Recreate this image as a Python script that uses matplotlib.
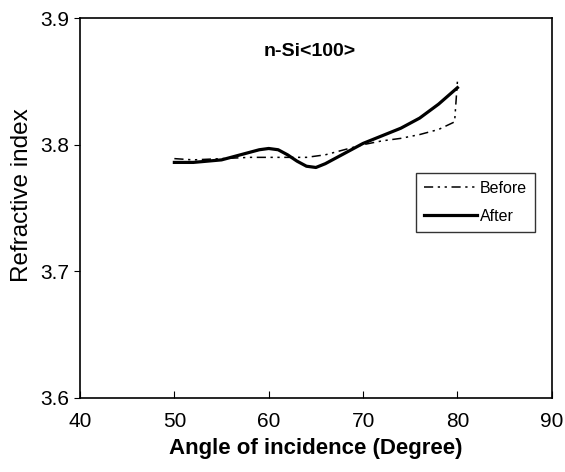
import matplotlib
matplotlib.use("Agg")
import matplotlib.pyplot as plt

plt.rcParams['font.family'] = ['Liberation Sans', 'DejaVu Sans']

# -----------------------------------------
# data
# -----------------------------------------
before_angle = [50, 52, 55, 58, 60, 62, 64, 66, 68, 70, 72, 74, 76, 78, 79.7, 80]
before_n = [3.789, 3.788, 3.789, 3.790, 3.790, 3.790, 3.790, 3.792, 3.796,
            3.800, 3.803, 3.805, 3.808, 3.812, 3.818, 3.850]

after_angle = [50, 52, 55, 57, 59, 60, 61, 62, 63, 64, 65, 66, 67, 68,
               70, 72, 74, 76, 78, 80]
after_n = [3.786, 3.786, 3.788, 3.792, 3.796, 3.797, 3.796, 3.792, 3.787,
           3.783, 3.782, 3.785, 3.789, 3.793, 3.801, 3.807, 3.813, 3.821,
           3.832, 3.845]

x_ticks = [40, 50, 60, 70, 80, 90]
y_ticks = [3.6, 3.7, 3.8, 3.9]

# -----------------------------------------
# plot
# -----------------------------------------
fig = plt.figure(figsize=(5.65, 4.72), dpi=100)
ax = fig.add_axes([0.1416, 0.1568, 0.835, 0.805])

ax.plot(before_angle, before_n, color='black', linewidth=1.1,
        dashes=(6, 3, 1.5, 3, 1.5, 3), label='Before')
ax.plot(after_angle, after_n, color='black', linewidth=2.3, label='After')

ax.set_xlim(40, 90)
ax.set_ylim(3.6, 3.9)
ax.set_xticks(x_ticks)
ax.set_yticks(y_ticks)
ax.set_yticklabels([f"{v:.1f}" for v in y_ticks])

ax.tick_params(axis='x', direction='in', length=5, labelsize=15, pad=10)
ax.tick_params(axis='y', direction='out', length=4, labelsize=15, pad=4)

for s in ax.spines.values():
    s.set_linewidth(1.2)

ax.set_xlabel("Angle of incidence (Degree)", fontsize=16, fontweight='bold',
              labelpad=5)
ax.set_ylabel("Refractive index", fontsize=17.5)
ax.yaxis.set_label_coords(-0.100, 0.534)

ax.text(0.487, 0.913, "n-Si<100>", transform=ax.transAxes, ha='center',
        va='center', fontsize=14, fontweight='bold')

leg = ax.legend(loc='upper left', bbox_to_anchor=(0.712, 0.592),
                fontsize=11.5, handlelength=3.3, handletextpad=0.2,
                frameon=True, fancybox=False, borderpad=0.5,
                labelspacing=0.8, borderaxespad=0)
leg.get_frame().set_edgecolor('black')
leg.get_frame().set_linewidth(1.0)

plt.savefig("out.png", dpi=100)
